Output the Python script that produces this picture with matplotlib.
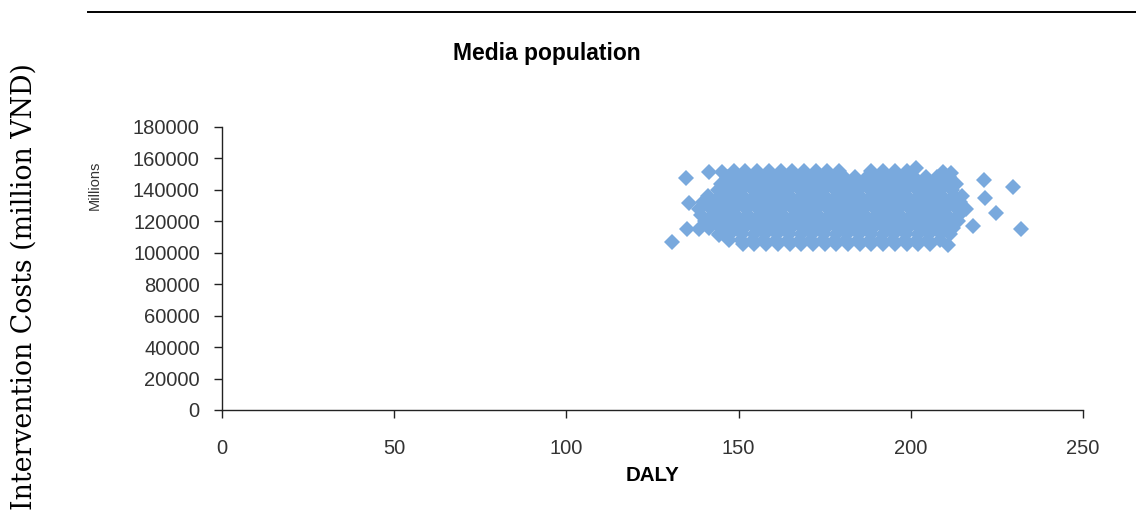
import matplotlib
matplotlib.use('Agg')
import matplotlib.pyplot as plt
from matplotlib.lines import Line2D

# simulated (DALY, cost) pairs, read off the cloud row by row
row_cost = [152000, 148000, 144000, 140000, 136000, 132000, 128000,
            124000, 120000, 116000, 112000, 108000, 105500]
row_daly = [
    [148.6, 152.0, 155.4, 158.8, 162.2, 165.6, 169.0, 172.4, 175.8, 179.2,
     188.6, 192.0, 195.4, 198.8],
    [146.5, 149.9, 153.3, 156.7, 160.1, 163.5, 166.9, 170.3, 173.7, 177.1,
     180.5, 183.9, 187.3, 190.7, 194.1, 197.5, 200.9, 204.3, 207.7, 211.1],
    [145.0, 148.4, 151.8, 155.2, 158.6, 162.0, 165.4, 168.8, 172.2, 175.6,
     179.0, 182.4, 185.8, 189.2, 192.6, 196.0, 199.4, 202.8, 206.2, 209.6, 213.0],
    [143.9, 147.3, 150.7, 154.1, 157.5, 160.9, 164.3, 167.7, 171.1, 174.5,
     177.9, 181.3, 184.7, 188.1, 191.5, 194.9, 198.3, 201.7, 205.1, 208.5, 211.9],
    [141.2, 144.6, 148.0, 151.4, 154.8, 158.2, 161.6, 165.0, 168.4, 171.8,
     175.2, 178.6, 182.0, 185.4, 188.8, 192.2, 195.6, 199.0, 202.4, 205.8,
     209.2, 212.6, 214.8],
    [139.6, 143.0, 146.4, 149.8, 153.2, 156.6, 160.0, 163.4, 166.8, 170.2,
     173.6, 177.0, 180.4, 183.8, 187.2, 190.6, 194.0, 197.4, 200.8, 204.2,
     207.6, 211.0, 214.4],
    [138.5, 141.9, 145.3, 148.7, 152.1, 155.5, 158.9, 162.3, 165.7, 169.1,
     172.5, 175.9, 179.3, 182.7, 186.1, 189.5, 192.9, 196.3, 199.7, 203.1,
     206.5, 209.9, 213.3, 216.0],
    [139.2, 142.6, 146.0, 149.4, 152.8, 156.2, 159.6, 163.0, 166.4, 169.8,
     173.2, 176.6, 180.0, 183.4, 186.8, 190.2, 193.6, 197.0, 200.4, 203.8,
     207.2, 210.6, 214.0],
    [140.3, 143.7, 147.1, 150.5, 153.9, 157.3, 160.7, 164.1, 167.5, 170.9,
     174.3, 177.7, 181.1, 184.5, 187.9, 191.3, 194.7, 198.1, 201.5, 204.9,
     208.3, 211.7, 213.8],
    [141.5, 144.9, 148.3, 151.7, 155.1, 158.5, 161.9, 165.3, 168.7, 172.1,
     175.5, 178.9, 182.3, 185.7, 189.1, 192.5, 195.9, 199.3, 202.7, 206.1,
     209.5, 212.4],
    [144.2, 147.6, 151.0, 154.4, 157.8, 161.2, 164.6, 168.0, 171.4, 174.8,
     178.2, 181.6, 185.0, 188.4, 191.8, 195.2, 198.6, 202.0, 205.4, 208.8, 211.5],
    [147.3, 150.7, 154.1, 157.5, 160.9, 164.3, 167.7, 171.1, 174.5, 177.9,
     181.3, 184.7, 188.1, 191.5, 194.9, 198.3, 201.7, 205.1, 208.5],
    [151.2, 154.6, 158.0, 161.4, 164.8, 168.2, 171.6, 175.0, 178.4, 181.8,
     185.2, 188.6, 192.0, 195.4, 198.8, 202.2, 205.6],
]

# scattered points around the edge of the cloud
out_daly = [130.8, 134.6, 134.9, 135.5, 138.4, 141.3, 145.3, 144.2, 201.5,
            209.5, 211.6, 221.2, 229.7, 221.5, 224.7, 218.0, 232.0, 210.8]
out_cost = [106900, 147600, 115100, 131700, 115100, 151400, 151400, 111300,
            154000, 151400, 150500, 146000, 141800, 135000, 125300, 117000,
            115000, 105000]

xticks = [0, 50, 100, 150, 200, 250]
yticks = list(range(0, 180001, 20000))

daly = []
cost = []
for y, xs in zip(row_cost, row_daly):
    daly += xs
    cost += [y] * len(xs)
daly += out_daly
cost += out_cost

fig = plt.figure(figsize=(11.36, 5.23), dpi=100)
ax = fig.add_axes([0.1954, 0.2161, 0.7579, 0.5411])

ax.plot(daly, cost, linestyle='none', marker='D', ms=8.6,
        color='#79a9dd', markeredgewidth=0)

ax.set_xlim(0, 250)
ax.set_ylim(0, 180000)
ax.set_xticks(xticks)
ax.set_yticks(yticks)
ax.spines['top'].set_visible(False)
ax.spines['right'].set_visible(False)
for s in ('left', 'bottom'):
    ax.spines[s].set_linewidth(1.0)
    ax.spines[s].set_color('#222222')
ax.tick_params(direction='out', length=6, width=1, colors='#222222',
               labelsize=14.5)
ax.tick_params(axis='y', pad=10)
ax.tick_params(axis='x', pad=15)
for lab in ax.get_xticklabels() + ax.get_yticklabels():
    lab.set_family('Liberation Sans')
    lab.set_color('#333333')

ax.set_xlabel('DALY', family='Liberation Sans', fontweight='bold',
              fontsize=14.8, labelpad=6)
fig.text(0.0835, 0.645, 'Millions', rotation=90, ha='center', va='center',
         family='Liberation Sans', fontsize=10.5, color='#333333')
fig.text(0.481, 0.898, 'Media population', ha='center', va='center',
         family='Liberation Sans', fontweight='bold', fontsize=16.5)
fig.text(0.021, 0.452, 'Intervention Costs (million VND)', rotation=90,
         ha='center', va='center', family='DejaVu Serif', fontsize=19.3)

fig.add_artist(Line2D([0.0775, 1.0], [0.977, 0.977], color='black', lw=1.4))

fig.savefig('out.png', dpi=100)
